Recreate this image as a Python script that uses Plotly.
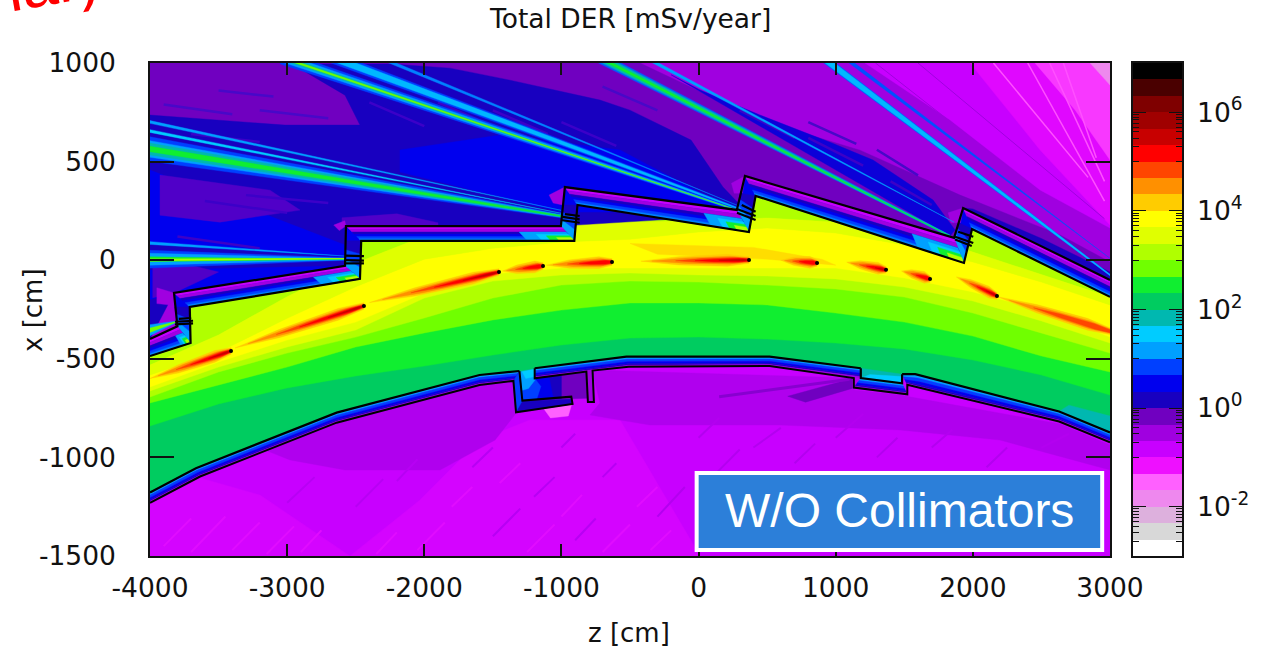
import plotly.graph_objects as go

W, H = 1265, 648
# ---------- colour levels of the map, top of the scale to the bottom (3 levels per decade, 1e7 ... 1e-3)
level_colors = ["#000000", "#4a0000", "#7f0000", "#a00000", "#c80000", "#ff0000", "#ff4500", "#ff9000", "#ffcc00",
                "#ffff00", "#e0ff00", "#b0ff00", "#70ff00", "#10ee30", "#00cc60", "#00b8b0", "#00ccff", "#00a0ff",
                "#0040ff", "#0000ee", "#1800c0", "#7000c0", "#a000e0", "#c800ff", "#ee10ff", "#ff60ff", "#ee88ee",
                "#ddb0dd", "#d8d8d8", "#ffffff"]
cbar_major = [-2, 0, 2, 4, 6]
cbar_major_text = ["10<sup>-2</sup>", "10<sup>0</sup>", "10<sup>2</sup>", "10<sup>4</sup>", "10<sup>6</sup>"]
cbar_minor_offsets = [-0.046, -0.097, -0.155, -0.222, -0.301, -0.398, -0.523, -0.699, -1.0]
z_ticks = [-4000, -3000, -2000, -1000, 0, 1000, 2000, 3000]
x_ticks = [-1500, -1000, -500, 0, 500, 1000]

# ---------- geometry, (z, x) in cm
upper_outer = [(-4000, -400), (-3800, -335), (-3825, -166), (-2578, -29), (-2571, 173), (-1004, 173), (-975, 371),
               (279, 255), (338, 427), (1863, 113), (1929, 265), (3000, -100)]
upper_inner = [(-4000, -486), (-3704, -420), (-3710, -237), (-2469, -95), (-2460, 98), (-906, 98), (-883, 280),
               (367, 143), (416, 326), (1935, -14), (1994, 158), (3000, -186)]
lower_a_top = [(-4000, -1178), (-3665, -1055), (-2639, -773), (-1597, -582), (-1306, -562)]
lower_a_bot = [(-4000, -1230), (-3635, -1097), (-2639, -824), (-1597, -633), (-1350, -612)]
lower_b_top = [(-1195, -548), (-526, -489), (518, -489), (1183, -548)]
lower_b_bot = [(-1195, -599), (-510, -540), (518, -536), (1183, -598)]
lower_c_top = [(1183, -598), (1484, -624)]
lower_c_bot = [(1132, -646), (1522, -680)]
lower_d_top = [(1484, -578), (1580, -578), (2629, -767), (3000, -874)]
lower_d_bot = [(1522, -632), (1640, -656), (2629, -818), (3000, -923)]
notch_line_1 = [(-1306, -562), (-1285, -712), (-928, -692), (-919, -729), (-1331, -771), (-1350, -612), (-1597, -633),
                (-2639, -824), (-3635, -1097), (-4000, -1230)]
notch_line_2 = [(-1195, -548), (-1195, -599), (-818, -565), (-807, -719), (-763, -719), (-773, -560), (-510, -540),
                (518, -536), (1132, -598), (1132, -646), (1522, -680), (1522, -632), (2629, -818), (3000, -923)]
lower_top_line = [(-4000, -1178), (-3665, -1055), (-2639, -773), (-1597, -582), (-1306, -562)]
lower_top_line_2 = [(-1195, -548), (-526, -489), (518, -489), (1183, -548), (1183, -598), (1484, -624), (1484, -578),
                    (1580, -578), (2629, -767), (3000, -874)]

# ---------- dose bands inside the tunnel: x of each colour edge at these z stations
band_z = [-4000, -3500, -3000, -2500, -2000, -1500, -1000, -500, 0, 500, 1000, 1500, 2000, 2500, 3000]
top_of_00cc60 = [-841, -729, -648, -587, -537, -481, -430, -395, -390, -400, -420, -450, -506, -582, -684]
top_of_10ee30 = [-724, -633, -542, -440, -369, -303, -253, -217, -217, -227, -268, -314, -385, -486, -567]
top_of_70ff00 = [-694, -567, -471, -390, -293, -192, -126, -106, -111, -126, -146, -187, -268, -369, -471]
top_of_b0ff00 = [-663, -542, -440, -354, -192, -106, -75, -65, -75, -80, -95, -136, -207, -308, -420]
top_of_e0ff00 = [-643, -516, -405, -314, -167, -70, -40, -40, -40, -40, -40, -90, -161, -253, -390]
yellow_upper = [-582, -466, -295, -135, 5, 60, 92, 106, 143, 163, 138, 77, -9, -111, -227]
greenyellow_upper = [-532, -379, -185, -15, 122, 172, 178, 193, 200, 214, 193, 143, 41, -75, -187]

# ---------- beam-loss streaks: tail z, tail x, head z, head x (heads are the black dots)
streak_tail_z = [-4000, -3380, -2400, -1430, -1110, -420, 600, 1080, 1480, 1880, 2180]
streak_tail_x = [-600, -445, -215, -55, -25, -5, 0, -10, -55, -85, -185]
streak_head_z = [-3409, -2440, -1455, -1134, -631, 368, 864, 1367, 1688, 2176, 3000]
streak_head_x = [-460, -232, -60, -29, -9, 1, -14, -49, -95, -181, -360]
streak_strength = [5, 5, 5, 4, 4, 5, 4, 5, 4, 5, 3]
head_z = [-3409, -2440, -1455, -1134, -631, 368, 864, 1367, 1688, 2176]
head_x = [-460, -232, -60, -29, -9, 1, -14, -49, -95, -181]

# ---------- rays through the shield openings: far z, far x, apex z, apex x, half-width, colour
ray_far_z = [-4000, -4000, -4000, -4000, -4000, -4000, -4000, -4000, -4000, -4000, -4000, -4000,
             -3050, -3050, -3050, -3050, -2680, -2680, -2300, -730, -730, -730, -420,
             900, 900, 1080, -4000, -4000]
ray_far_x = [5, 5, 5, 87, 564, 564, 564, 564, 701, 655, 1, 1,
             1030, 1030, 1030, 1030, 1030, 1030, 1020, 1030, 1030, 1030, 1040,
             1030, 1030, 1020, -355, -355]
ray_apex_z = [-2578, -2578, -2578, -2578, -1003, -1003, -1003, -1003, -1003, -1003, -2578, -2578,
              280, 280, 280, 280, 280, 280, 280, 1834, 1834, 1834, 1863,
              3000, 3000, 3000, -3810, -3810]
ray_apex_x = [6, 6, 6, 22, 224, 224, 224, 224, 254, 239, 8, 8,
              255, 255, 255, 255, 265, 265, 280, 123, 123, 123, 194,
              -75, -75, 11, -313, -313]
ray_half = [45, 30, 12, 7, 62, 42, 30, 14, 7, 7, 6, 3,
            35, 22, 12, 5, 30, 18, 8, 30, 20, 8, 9,
            24, 18, 11, 28, 11]
ray_color = ["#0040ff", "#00a0ff", "#10ee30", "#00a0ff", "#0040ff", "#00a0ff", "#00b8b0", "#10ee30", "#00a0ff", "#00ccff",
             "#70ff00", "#b0ff00",
             "#0040ff", "#00a0ff", "#00b8b0", "#70ff00", "#0040ff", "#00b8ff", "#0080ff", "#0060ff", "#00b8b0", "#10ee30",
             "#00a0ff", "#0060ff", "#00b8ff", "#0050ff", "#00a0ff", "#70ff00"]

# ---------- regions outside the tunnel
region_blue_a = [(-4000, 736), (-3016, 685), (-2469, 685), (-2578, 837), (-2965, 995), (-2235, 995), (-1812, 974),
                 (-1375, 913), (-719, 812), (-500, 761), (-55, 609), (178, 371), (338, 254), (280, 229), (-1003, 173),
                 (-2571, 173), (-2578, -29), (-3825, -166), (-4000, -400)]
region_blue_b = [(-2177, 559), (-1448, 635), (-573, 559), (280, 244), (-1003, 244), (-2177, 447)]
region_blue_c = [(-4000, 457), (-2578, 77), (-2578, 16), (-4000, 82)]
region_blue_d = [(-4000, -50), (-2578, -29), (-3825, -166), (-4000, -200)]
region_blue_e = [(11, 863), (448, 736), (973, 594), (1272, 508), (1710, 305), (1870, 153), (1834, 123), (-200, 940)]
region_violet = [(-4000, 1000), (-427, 1000), (448, 711), (1177, 558), (1907, 330), (2636, 128), (3000, -9), (3000, -100),
                 (1929, 265), (1863, 113), (338, 427), (279, 255), (-975, 371), (-1004, 173), (-4000, 173)]
region_edge_blue = [(2000, 260), (2500, 110), (3000, -60), (3000, -100), (1929, 265)]
patches_violet = [[(-3927, 432), (-3125, 355), (-2906, 254), (-3490, 193), (-3927, 228)],
                  [(-2600, 173), (-2600, 215), (-2200, 235), (-1900, 190), (-1900, 173)],
                  [(-3980, 20), (-3500, -60), (-3825, -166), (-3980, -190)]]
corner_halos = [[(-2660, 178), (-2580, 200), (-2571, 173), (-2620, 150)],
                [(-1090, 330), (-975, 371), (-990, 280), (-1060, 290)],
                [(-3950, -140), (-3825, -166), (-3820, -230), (-3950, -220)],
                [(240, 390), (338, 427), (320, 340), (260, 340)],
                [(1820, 240), (1929, 265), (1910, 190), (1840, 190)]]
top_magenta_1 = [(1214, 1000), (3000, 1000), (3000, 163), (2490, 356), (1834, 711)]
top_magenta_2 = [(1979, 1000), (3000, 1000), (3000, 178), (2490, 559)]
top_magenta_3 = [(2453, 1000), (3000, 1000), (3000, 508), (2745, 762)]
top_magenta_4 = [(2855, 1000), (3000, 1000), (3000, 888)]
dark_ray_z = [[1290, 2960], [1600, 2960]]
dark_ray_x = [[1000, 90], [1000, 210]]
pink_ray_z = [[2400, 2960], [2560, 2960], [2660, 2900], [2150, 2840]]
pink_ray_x = [[1000, 300], [1000, 400], [1000, 520], [1000, 420]]
low_dark_1 = [(-3161, -963), (-2636, -825), (-1594, -633), (-1353, -613), (-1324, -770), (-1484, -912), (-1885, -1064),
              (-2578, -1064), (-2979, -1013)]
low_dark_2 = [(-777, -557), (1177, -598), (1134, -658), (1469, -684), (2636, -831), (3000, -937), (3000, -1064),
              (2198, -912), (1469, -861), (594, -836), (-354, -836), (-792, -785), (-719, -724)]
low_bright_1 = [(-1229, -810), (-573, -810), (11, -1500), (-2542, -1500), (-2031, -1216), (-1594, -912)]
low_bright_2 = [(-4000, -1230), (-3635, -1104), (-3198, -1191), (-2542, -1500), (-4000, -1500)]
low_spot = [(-1130, -752), (-925, -730), (-950, -790), (-1080, -800)]
low_streak_z = [150, 1100]
low_streak_x = [-693, -604]
low_wedge = [(1120, -600), (650, -690), (780, -720), (1120, -650)]

# short grain marks seen in the field: z0, x0, z1, x1
grain_bright = [(-3900, -1450, -3700, -1310), (-3700, -1480, -3450, -1300), (-3400, -1470, -3200, -1330),
                (-3150, -1490, -2950, -1350), (-2900, -1480, -2750, -1370), (-2350, -1490, -2200, -1380),
                (-2050, -1470, -1850, -1330), (-1800, -1250, -1650, -1150), (-1450, -1130, -1300, -1030),
                (-1250, -1480, -1050, -1340), (-1000, -1300, -850, -1190), (-700, -1480, -500, -1340),
                (-450, -1250, -300, -1150), (-350, -1470, -200, -1370)]
grain_dark = [(-1500, -1400, -1300, -1260), (-1200, -1200, -1050, -1100), (-900, -1420, -750, -1310),
              (-700, -1100, -600, -1030), (-1650, -1050, -1500, -950), (-1000, -950, -900, -880),
              (-3000, -1230, -2800, -1100), (-2500, -1250, -2300, -1110), (-2200, -1120, -2050, -1010)]
grain_purple = [(100, -1100, 300, -960), (400, -950, 600, -850), (700, -1030, 850, -930), (1000, -900, 1200, -780),
                (1300, -1000, 1450, -900), (1700, -950, 1850, -860), (2100, -1050, 2250, -950), (-300, -1300, -100, -1150),
                (0, -900, 150, -800), (2500, -950, 2700, -880)]
grain_violet = [(-2400, 800, -2000, 680), (-1900, 800, -1500, 680), (-1500, 760, -1100, 640), (-1000, 700, -600, 580),
                (-3700, 640, -3200, 600), (-3600, 300, -3000, 240), (-2800, 430, -2300, 390), (300, 760, 700, 620),
                (800, 620, 1200, 480), (1400, 400, 1700, 280), (-3800, 120, -3200, 60), (-3300, 330, -2700, 290)]
grain_blue = [(-3900, 790, -3400, 740), (-3200, 760, -2700, 720), (-3500, 860, -3100, 830), (-700, 880, -300, 760),
              (800, 700, 1150, 590), (1300, 560, 1600, 430)]

notch_room_layers = [("#7000c0", [(-1195, -599), (-818, -565), (-807, -700), (-1285, -712)]),
                     ("#1800c0", [(-1195, -599), (-1000, -580), (-1000, -702), (-1285, -712)]),
                     ("#0000ee", [(-1306, -600), (-1195, -599), (-1090, -590), (-1060, -700), (-1285, -712)]),
                     ("#0040ff", [(-1300, -610), (-1195, -599), (-1150, -640), (-1180, -705), (-1285, -712)]),
                     ("#00a0ff", [(-1306, -562), (-1195, -548), (-1195, -610), (-1240, -650), (-1285, -660)]),
                     ("#00ccff", [(-1290, -560), (-1195, -548), (-1195, -590), (-1260, -600)]),
                     ("#00b8b0", [(-1340, -555), (-1150, -530), (-1195, -550), (-1300, -565)])]
notch_floor_layers = [("#00b8b0", [(1183, -548), (1484, -578), (1484, -624), (1183, -598)]),
                      ("#00ccff", [(1250, -580), (1484, -590), (1484, -624), (1183, -598)])]
notch_wall_left = [(-1350, -612), (-1306, -562), (-1285, -712), (-928, -692), (-919, -729), (-1331, -771)]
notch_wall_right = [(-818, -565), (-807, -719), (-763, -719), (-773, -560)]

# ---------- upper-wall segments: outer start, outer end, inner start, inner end
seg_outer = [[(-4000, -400), (-3800, -335)], [(-3825, -166), (-2578, -29)], [(-2571, 173), (-1004, 173)],
             [(-975, 371), (279, 255)], [(338, 427), (1863, 113)], [(1929, 265), (3000, -100)]]
seg_inner = [[(-4000, -486), (-3704, -420)], [(-3710, -237), (-2469, -95)], [(-2460, 98), (-906, 98)],
             [(-883, 280), (367, 143)], [(416, 326), (1935, -14)], [(1994, 158), (3000, -186)]]
seg_has_hot_end = [True, True, True, True, True, False]
wall_depths = [0.0, 0.2, 0.4, 0.55, 0.7, 0.85, 1.0]
wall_colors = ["#c800ff", "#a000e0", "#1800c0", "#0000ee", "#0040ff", "#0080ff"]
lower_depths = [0.0, 0.25, 0.5, 0.7, 0.85, 1.0]
lower_colors = ["#00a0ff", "#0040ff", "#0000ee", "#1800c0", "#a000e0"]
hot_u = [0.78, 0.85, 0.89, 0.93]
hot_v = [0.40, 0.55, 0.66, 0.78]
hot_colors = ["#00a0ff", "#00ccff", "#10ee30", "#b0ff00"]
legs = [[(-2578, 98), (-2460, 98), (-2469, -95), (-2578, -29)],
        [(-985, 280), (-883, 280), (-906, 98), (-1004, 173)],
        [(305, 340), (416, 326), (367, 143), (279, 255)],
        [(1900, 190), (1994, 158), (1935, -14), (1863, 113)],
        [(-3820, -237), (-3710, -237), (-3704, -420), (-3800, -335)]]
leg_depths = [0.0, 0.35, 0.7, 1.0]
leg_colors = ["#1800c0", "#0040ff", "#00a0ff"]

# junction pieces: each is a short double bar across the opening
junction_bars = [[(-2578, 23), (-2440, 21)], [(-2578, 0), (-2440, -2)], [(-2578, -16), (-2440, -16)],
                 [(-1003, 221), (-867, 207)], [(-1003, 204), (-867, 190)], [(-975, 234), (-867, 224)],
                 [(280, 260), (416, 224)], [(280, 241), (416, 204)], [(315, 280), (416, 246)],
                 [(1870, 119), (2003, 87)], [(1870, 105), (1992, 72)], [(1893, 144), (2003, 119)],
                 [(-3818, -312), (-3686, -307)], [(-3818, -325), (-3686, -320)], [(-3790, -298), (-3700, -293)]]

fig = go.Figure()


def poly(pts, color):
    fig.add_trace(go.Scatter(x=[p[0] for p in pts] + [pts[0][0]], y=[p[1] for p in pts] + [pts[0][1]],
                             mode="lines", fill="toself", fillcolor=color, line=dict(color=color, width=0.4),
                             hoverinfo="skip", showlegend=False))


def line(pts, color="#000000", width=2.0):
    fig.add_trace(go.Scatter(x=[p[0] for p in pts], y=[p[1] for p in pts], mode="lines",
                             line=dict(color=color, width=width), hoverinfo="skip", showlegend=False))


def grains(items, color, width=2.0):
    xs, ys = [], []
    for a, b, c, d in items:
        xs += [a, c, None]
        ys += [b, d, None]
    fig.add_trace(go.Scatter(x=xs, y=ys, mode="lines", line=dict(color=color, width=width), hoverinfo="skip",
                             showlegend=False))


def mix(a, b, f):
    return (a[0] + (b[0] - a[0]) * f, a[1] + (b[1] - a[1]) * f)


def bands_between(top, bot, depths, colors):
    for k, c in enumerate(colors):
        up = [mix(a, b, depths[k]) for a, b in zip(top, bot)]
        dn = [mix(a, b, depths[k + 1]) for a, b in zip(top, bot)]
        poly(up + dn[::-1], c)


def above(curve, color):
    pts = list(zip(band_z, curve))
    poly(pts + [(3000, 1000), (-4000, 1000)], color)


def ray(i):
    fz, fx, az, ax, h = ray_far_z[i], ray_far_x[i], ray_apex_z[i], ray_apex_x[i], ray_half[i]
    tip = h * 0.15
    poly([(fz, fx + h), (az, ax + tip), (az, ax - tip), (fz, fx - h)], ray_color[i])


def streak(i):
    tz, tx, hz, hx = streak_tail_z[i], streak_tail_x[i], streak_head_z[i], streak_head_x[i]
    strength = streak_strength[i]
    widths = [30, 20, 14, 9, 5]
    starts = [0.0, 0.1, 0.32, 0.5, 0.72]
    cols = ["#ffcc00", "#ff9000", "#ff4500", "#ff0000", "#c80000"]
    for lv in range(strength):
        p0 = mix((tz, tx), (hz, hx), starts[lv])
        pa = mix((tz, tx), (hz, hx), starts[lv] + (1 - starts[lv]) * 0.35)
        pm = mix((tz, tx), (hz, hx), starts[lv] + (1 - starts[lv]) * 0.8)
        w = widths[lv]
        e = w * 0.55
        poly([p0, (pa[0], pa[1] + w * 0.7), (pm[0], pm[1] + w), (hz, hx + e), (hz, hx - e), (pm[0], pm[1] - w),
              (pa[0], pa[1] - w * 0.7)], cols[lv])


# ---- lower field
fig.add_trace(go.Scatter(x=[-4000, 3000, 3000, -4000, -4000], y=[-1500, -1500, 1000, 1000, -1500], mode="lines",
                         fill="toself", fillcolor="#c800ff", line=dict(color="#c800ff", width=0), hoverinfo="skip",
                         showlegend=False))
poly(low_bright_1, "#d404ff")
poly(low_bright_2, "#d404ff")
poly(low_dark_1, "#b000ee")
poly(low_dark_2, "#b000ee")
grains(grain_bright, "#e00cff")
grains(grain_dark, "#b800f4")
grains(grain_purple, "#b400f0")
poly(low_wedge, "#7000c0")
line(list(zip(low_streak_z, low_streak_x)), "#8800d0", 3)
poly(low_spot, "#ff60ff")

# ---- lower wall
bands_between(lower_a_top, lower_a_bot, lower_depths, lower_colors)
bands_between(lower_b_top, lower_b_bot, lower_depths, lower_colors)
bands_between(lower_c_top, lower_c_bot, lower_depths, lower_colors)
bands_between(lower_d_top, lower_d_bot, lower_depths, lower_colors)
poly(notch_wall_left, "#1800c0")
poly([(-1350, -612), (-1306, -562), (-1285, -712), (-1331, -771)], "#0040ff")
poly([(-1331, -771), (-1285, -730), (-928, -700), (-919, -729)], "#1800c0")
poly(notch_wall_right, "#a000e0")
for c, pts in notch_room_layers:
    poly(pts, c)

# ---- tunnel bands, each filled upward; the shielding above covers the excess
poly(lower_top_line + lower_top_line_2 + [(3000, 1000), (-4000, 1000)], "#00cc60")
above(top_of_00cc60, "#10ee30")
above(top_of_10ee30, "#70ff00")
above(top_of_70ff00, "#b0ff00")
above(top_of_b0ff00, "#e0ff00")
poly(list(zip(band_z, top_of_e0ff00)) + list(zip(band_z, yellow_upper))[::-1], "#ffff00")
above(greenyellow_upper, "#b0ff00")
poly(list(zip(band_z, greenyellow_upper)) + list(zip(band_z, yellow_upper))[::-1], "#e0ff00")
poly([(-500, 85), (400, 65), (900, 5), (1000, -25), (500, 5), (-300, 30)], "#ffdd00")
for c, pts in notch_floor_layers:
    poly(pts, c)
poly([(2629, -767), (3000, -874), (3000, -790), (2700, -735)], "#00b8b0")
for i in range(len(streak_tail_z)):
    streak(i)
fig.add_trace(go.Scatter(x=head_z, y=head_x, mode="markers", marker=dict(color="#000000", size=4), hoverinfo="skip",
                         showlegend=False))

# ---- shielding above the tunnel
poly(upper_inner + [(3000, 1000), (-4000, 1000)], "#0000ee")
poly(upper_outer + [(3000, 1000), (-4000, 1000)], "#a000e0")
poly(region_violet, "#7000c0")
poly(top_magenta_1, "#c800ff")
poly(top_magenta_2, "#e008ff")
poly(top_magenta_3, "#f838ff")
poly(top_magenta_4, "#ee88ee")
for z_, x_ in zip(pink_ray_z, pink_ray_x):
    line(list(zip(z_, x_)), "#ff50ff", 1.5)
for z_, x_ in zip(dark_ray_z, dark_ray_x):
    line(list(zip(z_, x_)), "#a000e0", 1)
poly(region_blue_a, "#1800c0")
poly(region_blue_b, "#0000ee")
poly(region_blue_c, "#0000ee")
poly(region_blue_d, "#0000ee")
poly(region_blue_e, "#0c00d8")
poly(region_edge_blue, "#1800c0")
for p in patches_violet:
    poly(p, "#5000c8")
for p in corner_halos:
    poly(p, "#a000e0")
grains(grain_violet, "#3c00c8", 2.5)
grains(grain_blue, "#4808c8", 2.5)
for i in range(len(ray_far_z)):
    ray(i)

# ---- upper wall: legs, banded segments, hot ends
for leg in legs:
    a, b, c, d = leg
    bands_between([a, b], [d, c], leg_depths, leg_colors)
for o, n, hot in zip(seg_outer, seg_inner, seg_has_hot_end):
    bands_between(o, n, wall_depths, wall_colors)
    if hot:
        for u, v, c in zip(hot_u, hot_v, hot_colors):
            p1 = mix(mix(o[0], o[1], u), mix(n[0], n[1], u), v)
            p2 = mix(o[1], n[1], v)
            p3 = n[1]
            p4 = mix(n[0], n[1], u)
            poly([p1, p2, p3, p4], c)

# ---- black outlines
line(upper_outer, width=2.2)
line(upper_inner, width=2.2)
for b in junction_bars:
    line(b, width=2.2)
line(lower_a_top, width=2.2)
line(lower_b_top, width=2.2)
line(lower_d_top, width=2.2)
line([lower_b_top[-1], lower_c_top[0], lower_c_top[1], lower_d_top[0]], width=2.2)
line(notch_line_1, width=2.0)
line(notch_line_2, width=2.0)

# ---- value key
levels = len(level_colors)
cbar_y = [7 - (k + 0.5) * 10 / levels for k in range(levels)]
scale = []
for k, c in enumerate(level_colors[::-1]):
    scale += [[k / levels, c], [(k + 1) / levels, c]]
fig.add_trace(go.Heatmap(z=[[v] for v in cbar_y], y=cbar_y, x=[0], xaxis="x2", yaxis="y2", colorscale=scale, zmin=-3,
                         zmax=7, showscale=False, hoverinfo="skip"))

ink = "#111111"
font = dict(family="DejaVu Sans", size=26.5, color=ink)
dom_y = [(H - 556) / H, (H - 63) / H]
fig.update_layout(
    template="none", width=W, height=H, margin=dict(l=0, r=0, t=0, b=0, pad=0, autoexpand=False), paper_bgcolor="white",
    plot_bgcolor="white", showlegend=False,
    xaxis=dict(domain=[150 / W, 1110 / W], range=[-4000, 3000], tickmode="array", tickvals=z_ticks,
               ticktext=[str(v) for v in z_ticks], ticks="inside", ticklen=12, tickwidth=1.6, automargin=False,
               tickcolor=ink, showgrid=False, zeroline=False, showline=True, linecolor=ink, linewidth=1.6, mirror="ticks",
               tickfont=font, anchor="y", ticklabelstandoff=7),
    yaxis=dict(domain=dom_y, range=[-1500, 1000], tickmode="array", tickvals=x_ticks, ticktext=[str(v) for v in x_ticks],
               ticks="inside", ticklen=24, tickwidth=1.6, tickcolor=ink, showgrid=False, zeroline=False, showline=True,
               automargin=False, linecolor=ink, linewidth=1.6, mirror="ticks", tickfont=font, anchor="x", ticklabelstandoff=27),
    xaxis2=dict(domain=[1133 / W, 1182 / W], range=[-0.5, 0.5], showticklabels=False, ticks="", showgrid=False,
                automargin=False, zeroline=False, showline=True, linecolor=ink, linewidth=1.6, mirror=True, anchor="y2"),
    yaxis2=dict(domain=dom_y, range=[-3, 7], side="right", anchor="x2", tickmode="array", tickvals=cbar_major,
                ticktext=cbar_major_text, ticks="inside", ticklen=13, tickwidth=1.4, tickcolor=ink, showgrid=False,
                automargin=False, zeroline=False, showline=True, linecolor=ink, linewidth=1.6, mirror="ticks", tickfont=font,
                ticklabelstandoff=8,
                minor=dict(tickmode="array", tickvals=[m + o for m in cbar_major for o in cbar_minor_offsets],
                           ticks="inside", ticklen=6, tickwidth=1, tickcolor=ink)),
    shapes=[dict(type="rect", xref="x", yref="y", x0=-14, x1=2943, y0=-1470, y1=-1079, fillcolor="#2c7fd9",
                 line=dict(color="white", width=4), layer="above")],
    annotations=[
        dict(text="Total DER [mSv/year]", xref="paper", yref="paper", x=630 / W, y=1 - 18 / H, showarrow=False,
             font=dict(family="DejaVu Sans", size=26.5, color=ink), xanchor="center", yanchor="middle"),
        dict(text="z [cm]", xref="paper", yref="paper", x=629 / W, y=1 - 633 / H, showarrow=False,
             font=dict(family="DejaVu Sans", size=26, color=ink), xanchor="center", yanchor="middle"),
        dict(text="x [cm]", xref="paper", yref="paper", x=33 / W, y=1 - 310 / H, showarrow=False, textangle=-90,
             font=dict(family="DejaVu Sans", size=26, color=ink), xanchor="center", yanchor="middle"),
        dict(text="W/O Collimators", xref="x", yref="y", x=1465, y=-1270, showarrow=False,
             font=dict(family="Liberation Sans", size=48, color="white"), xanchor="center", yanchor="middle"),
        dict(text="lar)", xref="paper", yref="paper", x=52 / W, y=1 + 18 / H, showarrow=False, textangle=-10,
             font=dict(family="Liberation Sans", size=64, color="#ff0000"), xanchor="center", yanchor="middle"),
    ],
)
fig.write_html("out.html", config={"displayModeBar": False},
               post_script="document.body.style.margin='0';document.body.style.overflow='hidden';")
